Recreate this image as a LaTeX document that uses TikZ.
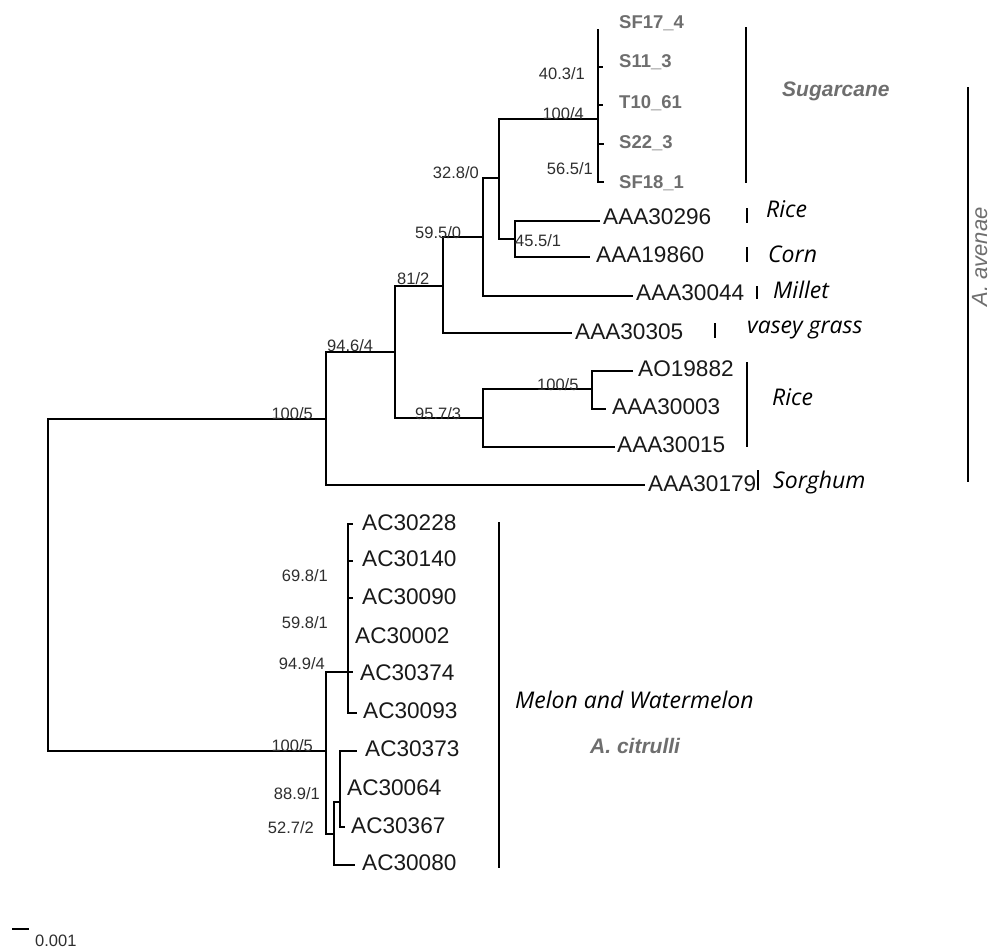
\documentclass[tikz,border=0pt]{standalone}
\usepackage{fontspec}
\setmainfont{Liberation Sans}
\newfontfamily\hostfont{Open Sans}
\definecolor{lg}{HTML}{6E6E6E}
\definecolor{bs}{HTML}{2E2E2E}
\begin{document}
\begin{tikzpicture}[x=1pt,y=-1pt,
  br/.style={line width=1.6pt},
  thick2/.style={line width=2.6pt},
  bar/.style={line width=2pt},
  tax/.style={font=\fontsize{22.6}{24}\selectfont, text=black!90, inner sep=0pt, anchor=base west},
  sug/.style={font=\fontsize{18.5}{20}\selectfont\bfseries, text=lg, inner sep=0pt, anchor=base west},
  boot/.style={font=\fontsize{16.5}{18}\selectfont, text=bs, inner sep=0pt},
  host/.style={font=\hostfont\itshape\fontsize{23}{25}\selectfont, inner sep=0pt, anchor=base west},
  clade/.style={font=\fontsize{21}{23}\selectfont\bfseries\itshape, text=lg, inner sep=0pt, anchor=base west}]
\useasboundingbox (0,0) rectangle (995,951);

% ---- internal nodes and tips
\coordinate (r) at (48,585);
\coordinate (a) at (326,419);
\coordinate (c) at (326,751);
\coordinate (b) at (395,352);
\coordinate (t30179) at (645,485);
\coordinate (d) at (443,286);
\coordinate (e) at (483,418);
\coordinate (f) at (483,237);
\coordinate (t30305) at (572,333);
\coordinate (g) at (499,178);
\coordinate (t30044) at (633,296);
\coordinate (h) at (598,119);
\coordinate (k) at (515,239);
\coordinate (t30296) at (600,221);
\coordinate (t19860) at (590,257);
\coordinate (m) at (592,389);
\coordinate (t30015) at (615,447);
\coordinate (t19882) at (633,371);
\coordinate (t30003) at (606,409);
\coordinate (s1) at (598,29);
\coordinate (s2) at (603,67);
\coordinate (s3) at (603,105);
\coordinate (s4) at (604,144);
\coordinate (s5) at (604,182);
\coordinate (p) at (348,672);
\coordinate (q) at (334,834);
\coordinate (c1) at (353,524);
\coordinate (c2) at (353,561);
\coordinate (c3) at (353,598);
\coordinate (c4) at (348,635);
\coordinate (c5) at (353,672);
\coordinate (c6) at (357,713);
\coordinate (s) at (340,802);
\coordinate (c10) at (355,865);
\coordinate (c7) at (357,751);
\coordinate (c8) at (340,790);
\coordinate (c9) at (345,827);

% ---- branches
\foreach \u/\v in {r/a, r/c, a/b, a/t30179, b/d, b/e, d/f, d/t30305,
  f/g, f/t30044, g/h, g/k, k/t30296, k/t19860, e/m, e/t30015,
  m/t19882, m/t30003, h/s1, h/s2, h/s3, h/s4, h/s5,
  c/p, c/q, p/c1, p/c2, p/c3, p/c4, p/c5, p/c6, q/s, q/c10,
  s/c7, s/c8, s/c9}
  \draw[br] (\u) |- (\v);
\coordinate (th1a) at (598,77);  \coordinate (th1b) at (598,105);
\coordinate (th2a) at (598,145); \coordinate (th2b) at (598,160);
\coordinate (th3a) at (348,630); \coordinate (th3b) at (348,672);
\coordinate (th4a) at (340,770); \coordinate (th4b) at (340,790);
\draw[thick2] (th1a) -- (th1b);
\draw[thick2] (th2a) -- (th2b);
\draw[thick2] (th3a) -- (th3b);
\draw[thick2] (th4a) -- (th4b);

% ---- sugarcane tips
\node[sug] (l1) at (619,28) {SF17\_4};
\node[sug] (l2) at (619,67) {S11\_3};
\node[sug] (l3) at (619,108) {T10\_61};
\node[sug] (l4) at (619,148) {S22\_3};
\node[sug] (l5) at (619,188) {SF18\_1};

% ---- A. avenae tips
\node[tax] (l30296) at (603,224) {AAA30296};
\node[tax] (l19860) at (596,262) {AAA19860};
\node[tax] (l30044) at (636,300) {AAA30044};
\node[tax] (l30305) at (575,339) {AAA30305};
\node[tax] (l19882) at (638,376) {AO19882};
\node[tax] (l30003) at (612,414) {AAA30003};
\node[tax] (l30015) at (617,452) {AAA30015};
\node[tax] (l30179) at (648,491) {AAA30179};

% ---- A. citrulli tips
\node[tax] (lc1) at (362,530) {AC30228};
\node[tax] (lc2) at (362,566) {AC30140};
\node[tax] (lc3) at (362,604) {AC30090};
\node[tax] (lc4) at (355,643) {AC30002};
\node[tax] (lc5) at (360,680) {AC30374};
\node[tax] (lc6) at (363,718) {AC30093};
\node[tax] (lc7) at (365,756) {AC30373};
\node[tax] (lc8) at (347,795) {AC30064};
\node[tax] (lc9) at (351,833) {AC30367};
\node[tax] (lc10) at (362,870) {AC30080};

% ---- bootstrap labels
\node[boot, anchor=base east] (b1) at (585,79) {40.3/1};
\node[boot, anchor=base east] (b2) at (584,119) {100/4};
\node[boot, anchor=base east] (b3) at (593,174) {56.5/1};
\node[boot, anchor=base east] (b4) at (479,178) {32.8/0};
\node[boot, anchor=base west] (b5) at (415,238) {59.5/0};
\node[boot, anchor=base west] (b6) at (515,246) {45.5/1};
\node[boot, anchor=base west] (b7) at (397,284) {81/2};
\node[boot, anchor=base west] (b8) at (327,351) {94.6/4};
\node[boot, anchor=base west] (b9) at (415,419) {95.7/3};
\node[boot, anchor=base west] (b10) at (537,390) {100/5};
\node[boot, anchor=base east] (b11) at (313,419) {100/5};
\node[boot, anchor=base east] (b12) at (313,751) {100/5};
\node[boot, anchor=base east] (b13) at (328,581) {69.8/1};
\node[boot, anchor=base east] (b14) at (328,628) {59.8/1};
\node[boot, anchor=base east] (b15) at (325,669) {94.9/4};
\node[boot, anchor=base east] (b16) at (320,799) {88.9/1};
\node[boot, anchor=base east] (b17) at (314,833) {52.7/2};

% ---- host bars and labels
\coordinate (sb1) at (746,27);  \coordinate (sb2) at (746,183);
\coordinate (rb1) at (747,208); \coordinate (rb2) at (747,223);
\coordinate (cb1) at (747,247); \coordinate (cb2) at (747,262);
\coordinate (mb1) at (757,286); \coordinate (mb2) at (757,299);
\coordinate (vb1) at (715,323); \coordinate (vb2) at (715,338);
\coordinate (rr1) at (747,362); \coordinate (rr2) at (747,447);
\coordinate (gb1) at (758,470); \coordinate (gb2) at (758,490);
\coordinate (ab1) at (968,87);  \coordinate (ab2) at (968,482);
\coordinate (wb1) at (499,522); \coordinate (wb2) at (499,868);
\draw[bar] (sb1) -- (sb2);
\draw[br] (rb1) -- (rb2);
\draw[br] (cb1) -- (cb2);
\draw[br] (mb1) -- (mb2);
\draw[br] (vb1) -- (vb2);
\draw[bar] (rr1) -- (rr2);
\draw[br] (gb1) -- (gb2);
\draw[bar] (ab1) -- (ab2);
\draw[bar] (wb1) -- (wb2);

\node[clade] (hsug) at (782,96) {Sugarcane};
\node[host] (hr1) at (766,217) {Rice};
\node[host] (hcorn) at (768,262) {Corn};
\node[host] (hmil) at (773,298) {Millet};
\node[host] (hvas) at (747,333) {vasey grass};
\node[host] (hr2) at (772,405) {Rice};
\node[host] (hsor) at (773,488) {Sorghum};
\node[host] (hmel) at (515,708) {Melon and Watermelon};
\node[clade] (hcit) at (590,753) {A. citrulli};
\node[font=\fontsize{22}{24}\selectfont\itshape, text=lg, inner sep=0pt, rotate=90, anchor=base] (hav) at (987,257) {A. avenae};

% ---- scale bar
\coordinate (sc1) at (12,929); \coordinate (sc2) at (29,929);
\draw[br] (sc1) -- (sc2);
\node[boot, anchor=base west] (scl) at (35,946) {0.001};
\end{tikzpicture}
\end{document}
